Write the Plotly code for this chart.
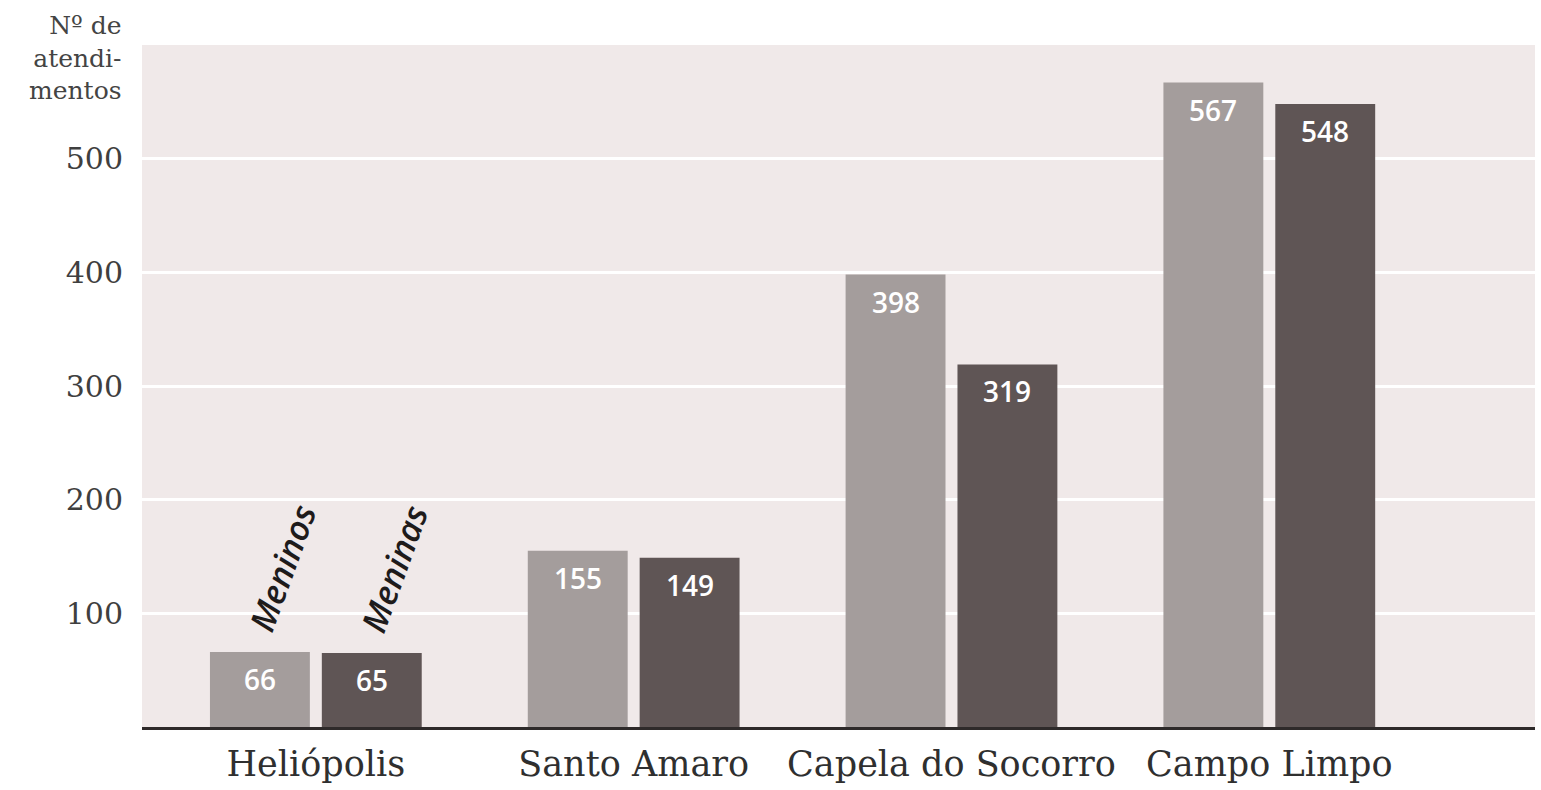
import plotly.graph_objects as go

# Atendimentos por região, separados por sexo
regioes = ["Heliópolis", "Santo Amaro", "Capela do Socorro", "Campo Limpo"]
meninos = [66, 155, 398, 567]
meninas = [65, 149, 319, 548]
y_ticks = [100, 200, 300, 400, 500]

cor_meninos = "#a49d9c"
cor_meninas = "#5f5555"
serif = "DejaVu Serif"
sans = "Open Sans"

x_idx = list(range(len(regioes)))

fig = go.Figure()
fig.add_trace(go.Bar(x=x_idx, y=meninos, name="Meninos",
                     marker=dict(color=cor_meninos, line=dict(width=0))))
fig.add_trace(go.Bar(x=x_idx, y=meninas, name="Meninas",
                     marker=dict(color=cor_meninas, line=dict(width=0))))

half = 0.176  # offset do centro de cada barra dentro do grupo
annotations = []
for i in x_idx:
    for val, off in ((meninos[i], -half), (meninas[i], half)):
        annotations.append(dict(
            x=i + off, y=val, text=str(val), showarrow=False,
            yanchor="middle", yshift=-27,
            font=dict(family=sans, size=28, color="white", weight=600)))

# rótulos inclinados identificando as séries no primeiro grupo
for txt, off, val in (("Meninos", -half, meninos[0]), ("Meninas", half, meninas[0])):
    annotations.append(dict(
        x=0 + off, y=val,
        text=f"<i>{txt}</i>", showarrow=False, textangle=-70,
        xanchor="center", yanchor="bottom", xshift=22, yshift=12,
        font=dict(family=sans, size=34, color="#1e1b1b", weight=600)))

# título do eixo vertical
annotations.append(dict(
    xref="paper", yref="paper", x=-0.013, y=1.0, xanchor="right", yanchor="bottom",
    text="Nº de<br>atendi-<br>mentos", align="right", showarrow=False,
    yshift=-62,
    font=dict(family=serif, size=25, color="#444444")))

fig.update_layout(
    width=1541, height=790,
    margin=dict(l=142, r=6, t=45, b=60),
    paper_bgcolor="white",
    plot_bgcolor="#f0e9e9",
    barmode="group",
    bargap=0.296,
    bargroupgap=0.107,
    showlegend=False,
    annotations=annotations,
    xaxis=dict(
        tickmode="array", tickvals=x_idx, ticktext=regioes,
        range=[-0.547, 3.836],
        showgrid=False, zeroline=False,
        showline=True, linecolor="#2e2a2a", linewidth=3,
        ticks="", ticklabelstandoff=4,
        tickfont=dict(family=serif, size=35, color="#2f2f2f"),
    ),
    yaxis=dict(
        range=[0, 600], tickmode="array", tickvals=y_ticks,
        showgrid=True, gridcolor="white", gridwidth=3,
        zeroline=False, showline=False, ticks="",
        ticklabelstandoff=18,
        tickfont=dict(family=serif, size=30, color="#3f3f3f"),
    ),
)

fig.write_html("out.html")
